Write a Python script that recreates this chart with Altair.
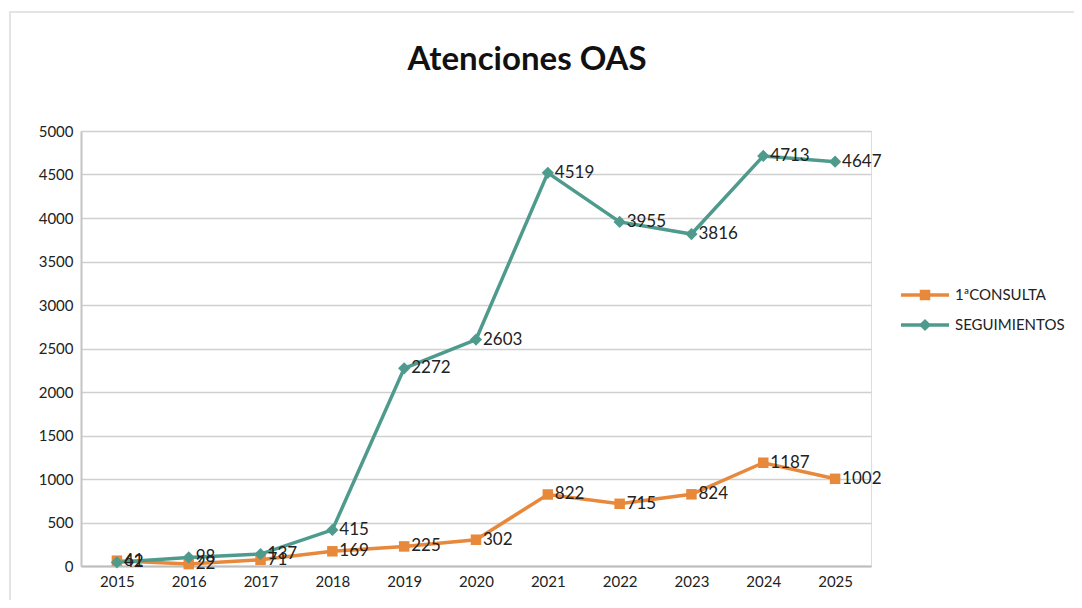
import altair as alt
import pandas as pd

years = ["2015", "2016", "2017", "2018", "2019", "2020", "2021", "2022", "2023", "2024", "2025"]
consulta = [61, 22, 71, 169, 225, 302, 822, 715, 824, 1187, 1002]
seguimientos = [42, 98, 137, 415, 2272, 2603, 4519, 3955, 3816, 4713, 4647]
series_names = ["1ªCONSULTA", "SEGUIMIENTOS"]
series_colors = ["#E8883B", "#4E9B8D"]
series_shapes = ["square", "diamond"]
series_sizes = [110, 150]
y_ticks = list(range(0, 5001, 500))
chart_title = "Atenciones OAS"

FONT = "Lato"

rows = []
for y, c, s in zip(years, consulta, seguimientos):
    rows.append({"year": y, "serie": series_names[0], "value": c})
    rows.append({"year": y, "serie": series_names[1], "value": s})
df = pd.DataFrame(rows)

x_enc = alt.X("year:O", sort=years,
              scale=alt.Scale(paddingOuter=0.5, paddingInner=0),
              axis=alt.Axis(title=None, labelAngle=0, labelFontSize=15, labelFont=FONT,
                            labelColor="#222", labelPadding=8, ticks=False,
                            domainColor="#bdbdbd", domainWidth=2, grid=False))
y_enc = alt.Y("value:Q", scale=alt.Scale(domain=[0, 5000], nice=False),
              axis=alt.Axis(title=None, values=y_ticks, format="d", labelFontSize=15, labelFont=FONT,
                            labelColor="#222", labelPadding=8, ticks=False, domain=True,
                            domainColor="#c4c4c4", domainWidth=2,
                            gridColor="#d0d0d0", gridWidth=1.5))
color_enc = alt.Color("serie:N", scale=alt.Scale(domain=series_names, range=series_colors), legend=None)

base = alt.Chart(df)
lines = base.mark_line(strokeWidth=3.5).encode(x=x_enc, y=y_enc, color=color_enc, detail="serie:N")
points = base.mark_point(filled=True, opacity=1).encode(
    x=x_enc, y=y_enc, color=color_enc,
    shape=alt.Shape("serie:N", scale=alt.Scale(domain=series_names, range=series_shapes), legend=None),
    size=alt.Size("serie:N", scale=alt.Scale(domain=series_names, range=series_sizes), legend=None),
)
labels = base.mark_text(align="left", baseline="middle", dx=7, fontSize=17, font=FONT,
                        color="#222").encode(x=x_enc, y=y_enc, text="value:Q")

title_df = pd.DataFrame({"t": [chart_title]})
title = alt.Chart(title_df).mark_text(fontSize=33, font=FONT, fontWeight="bold", color="#111",
                                      align="center", baseline="middle").encode(
    text="t:N", x=alt.value(446), y=alt.value(-71))

border = alt.Chart(title_df).mark_rect(fill=None, stroke="#e4e4e4", strokeWidth=2).encode(
    x=alt.value(-71), x2=alt.value(1020), y=alt.value(-119), y2=alt.value(500))

legend_layers = []
legend_y = [164, 194]
for name, col, shp, sz, ly in zip(series_names, series_colors, series_shapes, series_sizes, legend_y):
    ldf = pd.DataFrame({"serie": [name]})
    lb = alt.Chart(ldf)
    legend_layers.append(lb.mark_rule(color=col, strokeWidth=3.5).encode(
        x=alt.value(820), x2=alt.value(868), y=alt.value(ly)))
    legend_layers.append(lb.mark_point(filled=True, opacity=1, color=col, shape=shp, size=sz).encode(
        x=alt.value(844), y=alt.value(ly)))
    legend_layers.append(lb.mark_text(align="left", baseline="middle", fontSize=15, font=FONT,
                                      color="#222").encode(
        text="serie:N", x=alt.value(874), y=alt.value(ly)))

chart = alt.layer(border, lines, points, labels, title, *legend_layers).properties(
    width=790, height=435, autosize="none",
    padding={"left": 73, "top": 123, "right": 203, "bottom": 34},
).configure_view(stroke="transparent", strokeWidth=0).configure(background="white")

chart.save("out.html", embed_options={"renderer": "svg", "actions": False})
